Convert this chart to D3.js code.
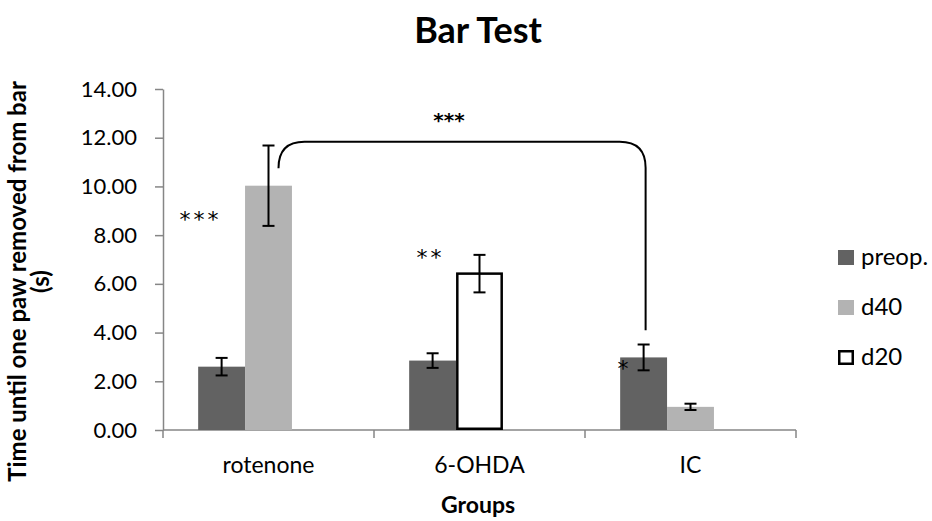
<!DOCTYPE html>
<html>
<head>
<meta charset="utf-8">
<script src="https://cdn.jsdelivr.net/npm/d3@7"></script>
<style>
  body { margin: 0; background: #fff; }
  svg { display: block; }
  text { font-family: Lato, "Open Sans", sans-serif; }
</style>
</head>
<body>
<svg id="chart" width="932" height="521"></svg>
<script>
const categories = ["rotenone", "6-OHDA", "IC"];
const seriesNames = ["preop.", "d40", "d20"];
const preop = [2.60, 2.85, 2.98];
const preopErr = [0.36, 0.30, 0.53];
const d40 = [10.03, null, 0.95];
const d40Err = [1.65, null, 0.13];
const d20 = [null, 6.42, null];
const d20Err = [null, 0.77, null];
const yTicks = [0, 2, 4, 6, 8, 10, 12, 14];
const stars = [
  { cat: "rotenone", label: "***", value: 8.35 },
  { cat: "6-OHDA", label: "**", value: 6.79 },
  { cat: "IC", label: "*", value: 2.2 }
];
const bracketStars = "***";

const svg = d3.select("#chart");
const m = { left: 163, right: 796, top: 89, bottom: 430 };

const x = d3.scaleBand().domain(categories).range([m.left, m.right]).paddingInner(0).paddingOuter(0);
// three slots per category; d20 shares the middle slot
const slotOf = { "preop.": 0, "d40": 1, "d20": 1 };
const xSub = d3.scaleBand().domain([0, 1, 2]).range([0, x.bandwidth()]).paddingInner(0).paddingOuter(0.75);
const y = d3.scaleLinear().domain([0, 14]).range([m.bottom, m.top]);

// Title
svg.append("text").attr("x", 478).attr("y", 43).attr("text-anchor", "middle")
  .attr("font-size", 36).attr("font-weight", "bold").attr("fill", "#000").text("Bar Test");

// Y axis
const yAxis = d3.axisLeft(y).tickValues(yTicks).tickFormat(d3.format(".2f")).tickSize(8).tickSizeOuter(0);
const gy = svg.append("g").attr("transform", `translate(${m.left},0)`).call(yAxis);
gy.selectAll("path, line").attr("stroke", "#868686").attr("stroke-width", 1.5);
gy.selectAll("text").attr("font-size", 22).attr("fill", "#000").attr("dx", -15)
  .style("font-family", "Lato, sans-serif");

// X axis
const gx = svg.append("g").attr("transform", `translate(0,${m.bottom})`);
gx.append("line").attr("x1", m.left).attr("x2", m.right).attr("stroke", "#868686").attr("stroke-width", 1.5);
const edges = categories.map(c => x(c)).concat([m.right]);
gx.selectAll("line.t").data(edges).join("line").attr("class", "t")
  .attr("x1", d => d).attr("x2", d => d).attr("y1", 0).attr("y2", 8)
  .attr("stroke", "#868686").attr("stroke-width", 1.5);
gx.selectAll("text").data(categories).join("text")
  .attr("x", d => x(d) + x.bandwidth() / 2).attr("y", 43).attr("text-anchor", "middle")
  .attr("font-size", 23).attr("fill", "#000").text(d => d);

// Axis titles
svg.append("text").attr("x", 478).attr("y", 513).attr("text-anchor", "middle")
  .attr("font-size", 23).attr("font-weight", "bold").text("Groups");
const yt = svg.append("text").attr("transform", `translate(26,${(m.top + m.bottom) / 2 + 22}) rotate(-90)`)
  .attr("text-anchor", "middle").attr("font-size", 24).attr("font-weight", "bold");
yt.append("tspan").attr("x", 0).attr("dy", 0).text("Time until one paw removed from bar");
yt.append("tspan").attr("x", 0).attr("dy", 23).text("(s)");

// Bars
const styles = {
  "preop.": { fill: "#626262", stroke: "none", sw: 0 },
  "d40": { fill: "#b3b3b3", stroke: "none", sw: 0 },
  "d20": { fill: "#ffffff", stroke: "#000", sw: 2.5 }
};
const seriesData = { "preop.": [preop, preopErr], "d40": [d40, d40Err], "d20": [d20, d20Err] };
const rows = [];
seriesNames.forEach(s => {
  categories.forEach((c, i) => {
    const v = seriesData[s][0][i];
    if (v != null) rows.push({ s, c, v, e: seriesData[s][1][i] });
  });
});
const bars = svg.append("g");
bars.selectAll("rect").data(rows).join("rect")
  .attr("x", d => x(d.c) + xSub(slotOf[d.s]) + styles[d.s].sw / 2)
  .attr("width", d => xSub.bandwidth() - styles[d.s].sw)
  .attr("y", d => y(d.v))
  .attr("height", d => y(0) - y(d.v) - styles[d.s].sw / 2)
  .attr("fill", d => styles[d.s].fill)
  .attr("stroke", d => styles[d.s].stroke)
  .attr("stroke-width", d => styles[d.s].sw);

// Error bars
const eb = svg.append("g").attr("stroke", "#000").attr("stroke-width", 2).attr("fill", "none");
rows.forEach(d => {
  const cx = x(d.c) + xSub(slotOf[d.s]) + xSub.bandwidth() / 2;
  const cap = 6;
  eb.append("line").attr("x1", cx).attr("x2", cx).attr("y1", y(d.v + d.e)).attr("y2", y(d.v - d.e));
  eb.append("line").attr("x1", cx - cap).attr("x2", cx + cap).attr("y1", y(d.v + d.e)).attr("y2", y(d.v + d.e));
  eb.append("line").attr("x1", cx - cap).attr("x2", cx + cap).attr("y1", y(d.v - d.e)).attr("y2", y(d.v - d.e));
});

// Significance stars next to bars
const starOffset = { "rotenone": -89, "6-OHDA": -63, "IC": -73 };
svg.selectAll("text.star").data(stars).join("text").attr("class", "star")
  .attr("x", d => x(d.cat) + x.bandwidth() / 2 + starOffset[d.cat])
  .attr("y", d => y(d.value))
  .attr("font-size", 22).attr("letter-spacing", 3).attr("fill", "#000")
  .style("font-family", "'DejaVu Sans', sans-serif")
  .text(d => d.label);

// Bracket between rotenone d40 and IC preop
const x1 = x("rotenone") + xSub(1) + xSub.bandwidth() / 2 + 10;
const x2 = x("IC") + xSub(0) + xSub.bandwidth() / 2 + 2;
const yTop = y(11.83);
const yL = y(10.75);
const yR = y(4.1);
const r = 26;
const path = d3.path();
path.moveTo(x1, yL);
path.quadraticCurveTo(x1, yTop, x1 + r, yTop);
path.lineTo(x2 - r, yTop);
path.quadraticCurveTo(x2, yTop, x2, yTop + r);
path.lineTo(x2, yR);
svg.append("path").attr("d", path.toString()).attr("fill", "none").attr("stroke", "#000").attr("stroke-width", 2);
svg.append("text").attr("x", 449).attr("y", yTop - 15).attr("text-anchor", "middle")
  .attr("font-size", 20).attr("font-weight", "bold").attr("letter-spacing", 0)
  .style("font-family", "'DejaVu Sans', sans-serif").text(bracketStars);

// Legend
const lg = svg.append("g").attr("transform", "translate(838,250)");
seriesNames.forEach((s, i) => {
  const g = lg.append("g").attr("transform", `translate(0,${i * 50})`);
  const st = styles[s];
  g.append("rect").attr("x", st.sw / 2).attr("y", st.sw / 2)
    .attr("width", 16 - st.sw).attr("height", 15 - st.sw)
    .attr("fill", st.fill).attr("stroke", st.stroke).attr("stroke-width", st.sw);
  g.append("text").attr("x", 23).attr("y", 15).attr("font-size", 24).text(s);
});
</script>
</body>
</html>
